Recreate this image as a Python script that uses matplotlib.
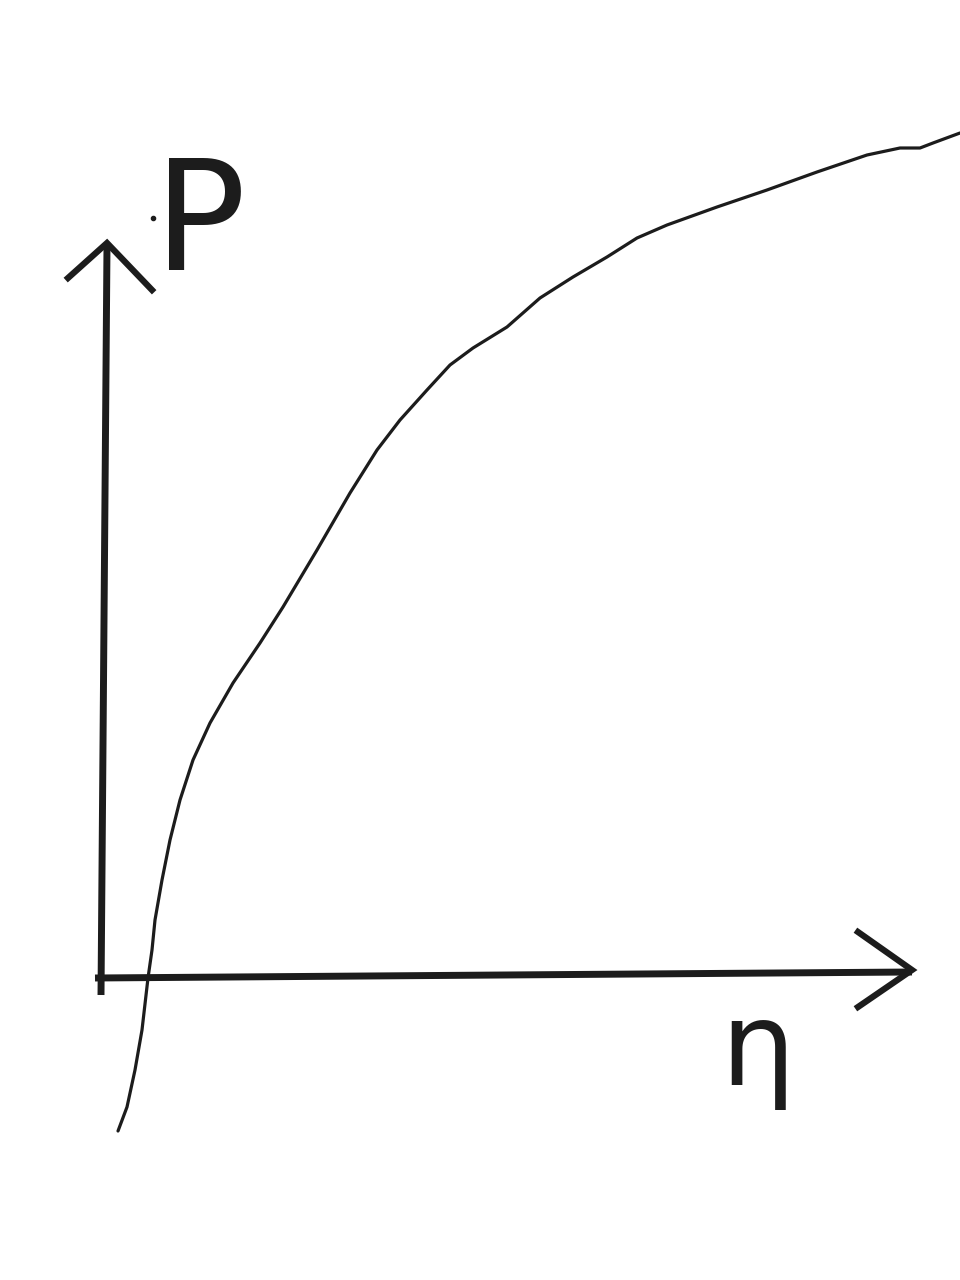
import matplotlib
matplotlib.use('Agg')
import matplotlib.pyplot as plt

# hand-drawn curve P(eta)
curve_x = [0.15, 0.24, 0.32, 0.39, 0.45, 0.49, 0.52, 0.59, 0.67, 0.77, 0.90, 1.07,
           1.30, 1.57, 1.80, 2.14, 2.47, 2.74, 2.97, 3.24, 3.47, 3.70, 4.04, 4.37,
           4.70, 5.04, 5.34, 5.64, 6.14, 6.64, 7.14, 7.64, 7.97, 8.17, 8.30, 8.57]
curve_y = [-1.53, -1.29, -0.92, -0.52, 0.0, 0.28, 0.58, 0.98, 1.38, 1.78, 2.18, 2.55,
           2.95, 3.35, 3.71, 4.28, 4.85, 5.28, 5.58, 5.88, 6.13, 6.30, 6.51, 6.80,
           7.01, 7.21, 7.40, 7.53, 7.71, 7.88, 8.06, 8.23, 8.30, 8.30, 8.35, 8.45]

# axes lines and arrow heads
yaxis_x = [-0.02, 0.04]
yaxis_y = [-0.17, 7.33]
yarrow_x = [-0.35, 0.04, 0.49]
yarrow_y = [7.0, 7.35, 6.88]
xaxis_x = [-0.08, 8.09]
xaxis_y = [0.0, 0.06]
xarrow_x = [7.55, 8.09, 7.55]
xarrow_y = [0.46, 0.08, -0.29]

fig = plt.figure(figsize=(9.6, 12.8), dpi=100)
ax = fig.add_axes([0, 0, 1, 1])
ax.set_xlim(-1.03, 8.57)
ax.set_ylim(-3.02, 9.78)
ax.axis('off')

ink = '#1c1c1c'
ax.plot(yaxis_x, yaxis_y, color=ink, lw=5, solid_capstyle='butt')
ax.plot(yarrow_x, yarrow_y, color=ink, lw=4.5, solid_joinstyle='miter')
ax.plot(xaxis_x, xaxis_y, color=ink, lw=5, solid_capstyle='butt')
ax.plot(xarrow_x, xarrow_y, color=ink, lw=4.5, solid_joinstyle='miter')
ax.plot(curve_x, curve_y, color=ink, lw=2.3, solid_capstyle='round', solid_joinstyle='round')

ax.text(0.97, 7.5, 'P', fontsize=110, color=ink, ha='center', va='center')
ax.plot([0.5], [7.6], 'o', color=ink, ms=3)
ax.text(6.55, -0.75, 'η', fontsize=85, color=ink, ha='center', va='center')

fig.savefig('out.png', dpi=100, facecolor='white')
